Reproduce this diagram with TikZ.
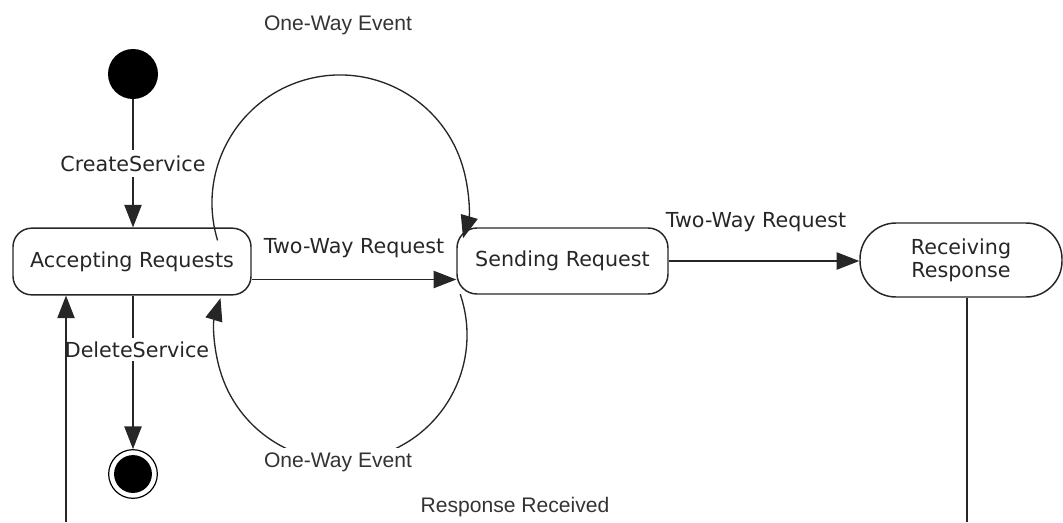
\documentclass[tikz,border=0pt]{standalone}
\usepackage{fontspec}
\setmainfont{DejaVu Sans}
\newfontfamily\arialf{Liberation Sans}
\usetikzlibrary{arrows.meta}
\begin{document}
\begin{tikzpicture}[x=0.75pt,y=-0.75pt,
  state/.style={draw=black!85, line width=1.1pt, rounded corners=14pt, align=center,
    font=\fontsize{15.5}{17.5}\selectfont, text=black!85, inner sep=0pt},
  conn/.style={draw=black!85, line width=1pt},
  arr/.style={conn, -{Triangle[length=17pt,width=13pt]}},
  lbl/.style={font=\fontsize{15.5}{17.5}\selectfont, text=black!85, inner sep=2pt},
  albl/.style={font=\arialf\fontsize{15.8}{18}\selectfont, text=black!80, inner sep=2pt},
]
\useasboundingbox (0,0) rectangle (1063,522);

% states
\node[circle, fill=black, minimum size=37.5pt, inner sep=0pt] (init) at (133,74) {};
\node[state, minimum width=178.5pt, minimum height=50pt] (acc) at (132,261.5) {Accepting Requests};
\node[state, minimum width=158.25pt, minimum height=49.5pt, rounded corners=15pt] (send) at (562.5,261) {Sending Request};
\node[state, minimum width=151.5pt, minimum height=55.5pt, rounded corners=27pt] (recv) at (961,260) {Receiving\\Response};
\node[circle, draw=black, line width=0.9pt, minimum size=36.5pt, inner sep=0pt] (fin) at (133,474) {};
\fill (fin.center) circle (14.2pt);

% CreateService
\draw[arr] (init.south) -- node[lbl, fill=white, inner ysep=4pt] {CreateService} (init.south |- acc.north);

% DeleteService
\draw[arr] (fin.north |- acc.south) -- node[pos=0.35, lbl, fill=white, inner ysep=2.5pt, xshift=3pt] {DeleteService} (fin.north);

% Two-Way Request (middle)
\draw[arr] ([yshift=-13.5pt]acc.east) -- node[midway, lbl, yshift=23.5pt] {Two-Way Request} ([yshift=-13.5pt]acc.east -| send.west);

% Two-Way Request (right)
\draw[arr] (send.east) -- node[midway, lbl, yshift=29pt, xshift=-6pt] {Two-Way Request} (send.east -| recv.west);

% One-Way Event loops
\coordinate (ta) at (217.6,240.4);
\draw[arr] (ta) arc[start angle=163, end angle=376, radius=128];
\coordinate (ba) at (460.2,294.2);
\draw[arr] (ba) arc[start angle=-18.9, end angle=197, radius=126];
\node[albl] (ow1) at (338,25) {One-Way Event};
\node[albl, fill=white, inner sep=3pt] (ow2) at (338,462) {One-Way Event};

% Response Received
\coordinate (r1) at (967,522);
\draw[conn] (recv.south -| r1) -- (r1);
\coordinate (l1) at (66,522);
\draw[arr] (l1) -- (l1 |- acc.south);
\node[albl] (rr) at (515,507) {Response Received};
\end{tikzpicture}
\end{document}
